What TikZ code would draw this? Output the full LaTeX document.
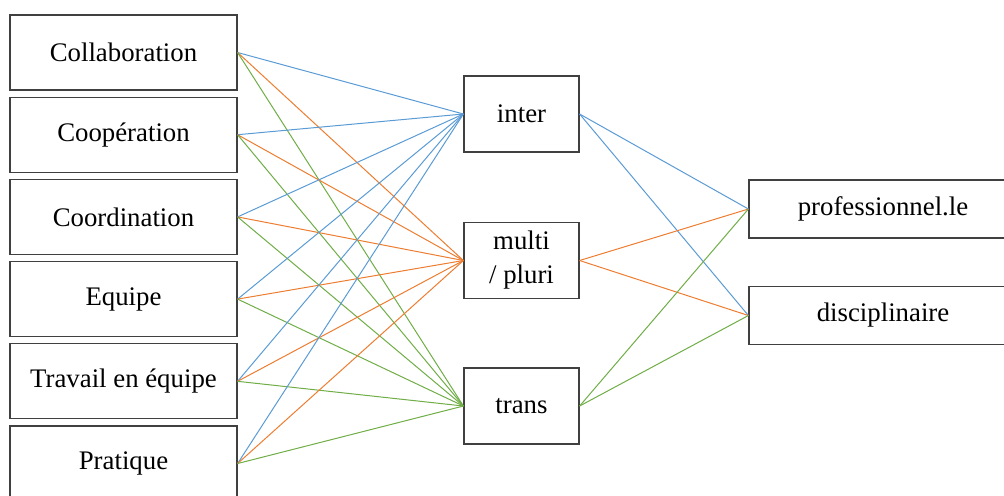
\documentclass[tikz,border=0pt]{standalone}
\usepackage{fontspec}
\setmainfont{Liberation Serif}
\usetikzlibrary{positioning}
\definecolor{LinkBlue}{HTML}{5B9BD5}
\definecolor{LinkOrange}{HTML}{ED7D31}
\definecolor{LinkGreen}{HTML}{70AD47}
\definecolor{BoxGray}{HTML}{404040}

\begin{document}
\begin{tikzpicture}[x=0.5pt, y=-0.5pt,
    termbox/.style={draw=BoxGray, line width=0.6pt, fill=white, inner sep=0pt,
        font=\fontsize{13.4}{17}\selectfont, align=center},
    leftbox/.style={termbox, minimum width=113.5pt, minimum height=37.5pt},
    midbox/.style={termbox, minimum width=57.5pt, minimum height=38pt},
    rightbox/.style={termbox, minimum width=134pt, minimum height=29pt},
    link/.style={line width=0.5pt}]
    \useasboundingbox (0,0) rectangle (1004,495);

    % Concept terms
    \node[leftbox] (collab) at (123.5, 52.5) {Collaboration};
    \node[leftbox] (coop) at (123.5, 134.7) {Coopération};
    \node[leftbox] (coord) at (123.5, 216.9) {Coordination};
    \node[leftbox] (equipe) at (123.5, 299.1) {Equipe};
    \node[leftbox] (travail) at (123.5, 381.3) {Travail en équipe};
    \node[leftbox] (pratique) at (123.5, 463.5) {Pratique};

    % Prefixes
    \node[midbox] (inter) at (521.5, 114) {inter};
    \node[midbox] (multi) at (521.5, 260.5) {multi\\/ pluri};
    \node[midbox] (trans) at (521.5, 406) {trans};

    % Suffixes
    \node[rightbox] (prof) at (883, 209) {professionnel.le};
    \node[rightbox] (disc) at (883, 315.5) {disciplinaire};

    % Terms to prefixes
    \foreach \term in {collab, coop, coord, equipe, travail, pratique} {
        \draw[link, LinkBlue] (\term.east) -- (inter.west);
        \draw[link, LinkOrange] (\term.east) -- (multi.west);
        \draw[link, LinkGreen] (\term.east) -- (trans.west);
    }

    % Prefixes to suffixes
    \foreach \pre/\col in {inter/LinkBlue, multi/LinkOrange, trans/LinkGreen} {
        \draw[link, \col] (\pre.east) -- (prof.west);
        \draw[link, \col] (\pre.east) -- (disc.west);
    }
\end{tikzpicture}
\end{document}
